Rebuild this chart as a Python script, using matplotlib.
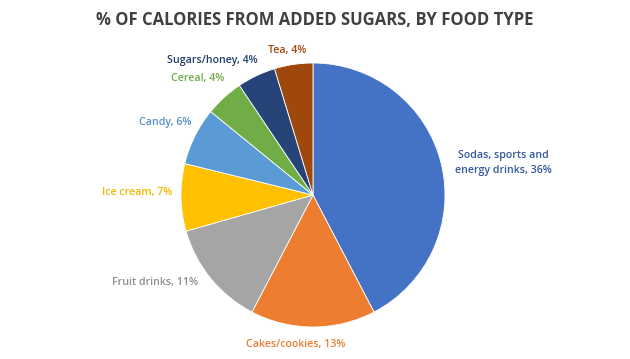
import matplotlib
matplotlib.use("Agg")
import matplotlib.pyplot as plt
import numpy as np

categories = ["Sodas, sports and\nenergy drinks", "Cakes/cookies", "Fruit drinks", "Ice cream",
              "Candy", "Cereal", "Sugars/honey", "Tea"]
values = [36, 13, 11, 7, 6, 4, 4, 4]
colors = ["#4472C4", "#ED7D31", "#A5A5A5", "#FFC000", "#5B9BD5", "#70AD47", "#264478", "#9E480E"]
label_colors = ["#34589E", "#ED7D31", "#8F8F8F", "#F2B600", "#5B8FC7", "#70AD47", "#223E6E", "#9E480E"]
title = "% OF CALORIES FROM ADDED SUGARS, BY FOOD TYPE"

# label placement (px offsets from pie centre, figure coords)
label_pos = [(190, 32), (-17, -149), (-158, -87), (-176, 3), (-148, 72), (-115, 116), (-101, 134), (-26, 145)]

plt.rcParams['font.family'] = ['Open Sans', 'DejaVu Sans']
W, H = 630, 359
fig = plt.figure(figsize=(W / 100, H / 100), dpi=100)
ax = fig.add_axes([0, 0, 1, 1])

cx, cy, r = 313, H - 195, 132
ax.pie(values, colors=colors, startangle=90, counterclock=False, center=(cx, cy), radius=r,
       wedgeprops=dict(edgecolor='white', linewidth=0.6), frame=True)
ax.set_xlim(0, W)
ax.set_ylim(0, H)
ax.set_aspect('equal')
ax.axis('off')

for cat, v, col, (dx, dy) in zip(categories, values, label_colors, label_pos):
    ax.text(cx + dx, cy + dy, f"{cat}, {v}%", ha='center', va='center', fontsize=7.7,
            fontweight='semibold', color=col, linespacing=1.45)

fig.text(315 / W, 1 - 20 / H, title, ha='center', va='center', fontsize=12,
         fontweight='bold', color='#404040')

fig.savefig("out.png", dpi=100)
